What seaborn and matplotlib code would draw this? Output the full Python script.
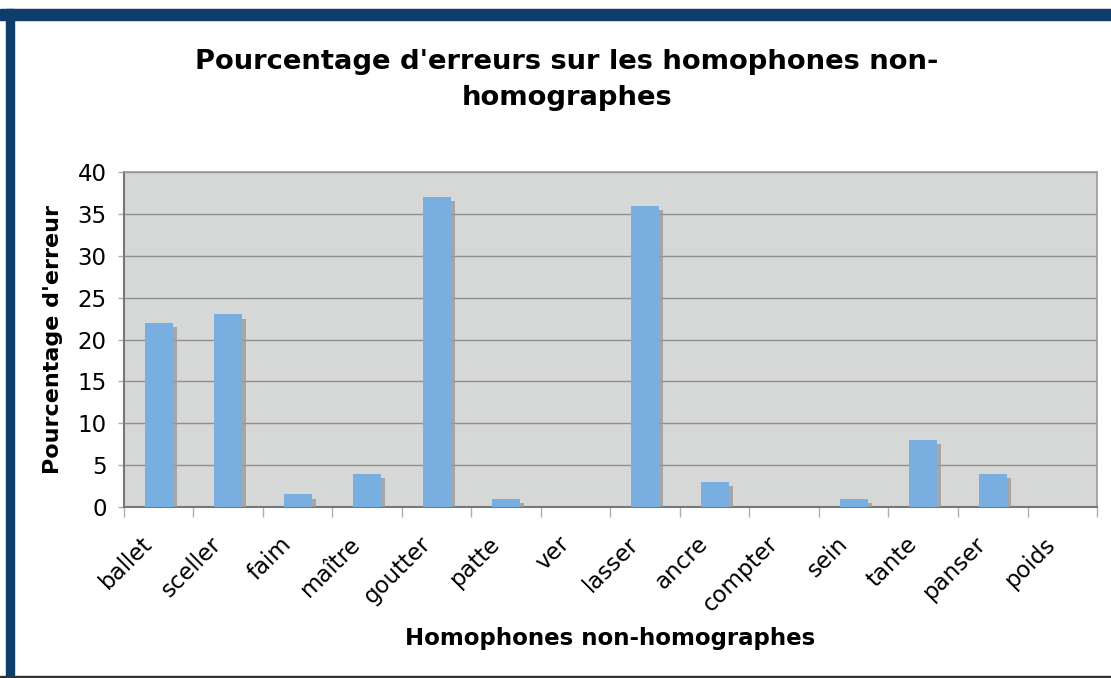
import matplotlib
matplotlib.use("Agg")
import matplotlib.pyplot as plt
import matplotlib.patheffects as pe
from matplotlib.transforms import ScaledTranslation
import seaborn as sns
import pandas as pd

words = ["ballet", "sceller", "faim", "maître", "goutter", "patte", "ver",
         "lasser", "ancre", "compter", "sein", "tante", "panser", "poids"]
errors = [22, 23, 1.5, 4, 37, 1, 0, 36, 3, 0, 1, 8, 4, 0]

df = pd.DataFrame({"mot": words, "erreur": errors})

sns.set_style("white")
plt.rcParams["font.family"] = ["DejaVu Sans"]
plt.rcParams["text.color"] = "black"
plt.rcParams["axes.labelcolor"] = "black"
plt.rcParams["xtick.color"] = "black"
plt.rcParams["ytick.color"] = "black"

fig = plt.figure(figsize=(11.11, 6.78), dpi=100)
fig.patch.set_facecolor("white")
ax = fig.add_axes([0.1116, 0.2522, 0.8758, 0.494])

sns.barplot(data=df, x="mot", y="erreur", color="#78aee0", saturation=1,
            width=0.4, ax=ax, zorder=3)
for p in ax.patches:
    p.set_edgecolor("none")
    p.set_path_effects([pe.SimplePatchShadow(offset=(3, -3), shadow_rgbFace="#9a9a9a", alpha=0.8),
                        pe.Normal()])

ax.set_facecolor("#d6d7d7")
ax.set_ylim(0, 40)
ax.set_xlim(-0.5, len(words) - 0.5)
ax.set_yticks(range(0, 41, 5))
ax.yaxis.grid(True, color="#8f8f8f", linewidth=1)
ax.set_axisbelow(True)

# tick marks between categories, labels under each bar
ax.set_xticks([i - 0.5 for i in range(len(words) + 1)])
ax.set_xticklabels([])
ax.set_xticks(range(len(words)), minor=True)
ax.set_xticklabels(words, minor=True, rotation=45, ha="right",
                   rotation_mode="anchor", fontsize=16.5)
ax.tick_params(bottom=True, left=True)
ax.tick_params(axis="x", which="minor", length=0, pad=8)
ax.tick_params(axis="x", which="major", length=7, width=1, color="#b0b0b0", direction="out")
ax.tick_params(axis="y", length=4.5, width=1, color="#aaaaaa", labelsize=16.5, pad=8)
shift = ScaledTranslation(-0.18, -0.14, fig.dpi_scale_trans)
for lab in ax.get_xticklabels(minor=True):
    lab.set_transform(lab.get_transform() + shift)

for s in ["left", "bottom"]:
    ax.spines[s].set_color("#777777")
    ax.spines[s].set_linewidth(1.5)
for s in ["top", "right"]:
    ax.spines[s].set_color("#9a9a9a")
    ax.spines[s].set_linewidth(1.2)

ax.set_xlabel("Homophones non-homographes", fontsize=16.5, fontweight="bold", labelpad=8)
ax.set_ylabel("Pourcentage d'erreur", fontsize=16, fontweight="bold", labelpad=10)

fig.text(0.51, 0.882, "Pourcentage d'erreurs sur les homophones non-\nhomographes",
         ha="center", va="center", fontsize=19.7, fontweight="bold", linespacing=1.5)

# frame of the original slide
fig.add_artist(plt.Rectangle((0, 0.97), 1, 0.016, transform=fig.transFigure,
                             color="#0d3d6b", zorder=10))
fig.add_artist(plt.Rectangle((0.005, 0), 0.008, 0.986, transform=fig.transFigure,
                             color="#0d3d6b", zorder=10))
fig.add_artist(plt.Rectangle((0, 0), 1, 0.003, transform=fig.transFigure,
                             color="#333333", zorder=10))

fig.savefig("out.png", dpi=100, facecolor="white")
